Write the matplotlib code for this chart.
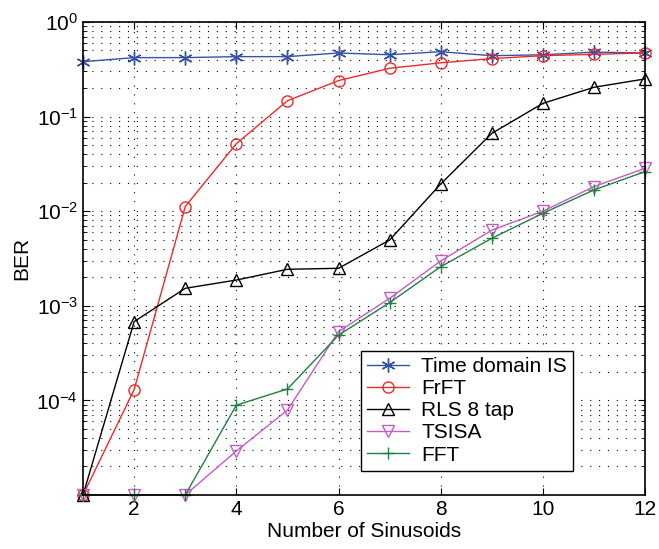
import matplotlib
matplotlib.use("Agg")
import matplotlib.pyplot as plt
from matplotlib.ticker import LogLocator, NullFormatter, FixedLocator

plt.rcParams['font.family'] = ['Liberation Sans', 'DejaVu Sans']
plt.rcParams['mathtext.fontset'] = 'custom'
plt.rcParams['mathtext.rm'] = 'Liberation Sans'

n_sin = [1, 2, 3, 4, 5, 6, 7, 8, 9, 10, 11, 12]

# zero-error points sit at the 1e-5 floor
ber_time_is = [0.38, 0.42, 0.42, 0.43, 0.43, 0.47, 0.45, 0.485, 0.44, 0.45, 0.48, 0.47]
ber_frft = [1e-5, 1.3e-4, 0.0112, 0.0517, 0.147, 0.24, 0.324, 0.37, 0.41, 0.44, 0.455, 0.47]
ber_rls = [1e-5, 6.8e-4, 1.53e-3, 1.87e-3, 2.43e-3, 2.49e-3, 4.96e-3, 0.0194, 0.0665, 0.138, 0.204, 0.25]
ber_tsisa = [1e-5, 1e-5, 1e-5, 2.92e-5, 7.9e-5, 5.33e-4, 1.2e-3, 2.98e-3, 6.3e-3, 0.01, 0.0182, 0.0284]
ber_fft = [1e-5, 1e-5, 1e-5, 8.9e-5, 1.32e-4, 4.9e-4, 1.08e-3, 2.59e-3, 5.17e-3, 9.5e-3, 0.0168, 0.0262]

fig = plt.figure(figsize=(6.59, 5.49), dpi=100)
ax = fig.add_axes([0.126, 0.0984, 0.853, 0.8616])

common = dict(lw=1, mfc='none', mew=1, clip_on=False)
ax.plot(n_sin, ber_time_is, color='#3552a5', marker=(6, 2, 0), ms=10, label='Time domain IS', **common)
ax.plot(n_sin, ber_frft, color='#ee2a2a', marker='o', ms=8, label='FrFT', **common)
ax.plot(n_sin, ber_rls, color='black', marker='^', ms=9, label='RLS 8 tap', **common)
ax.plot(n_sin, ber_tsisa, color='#c45cc4', marker='v', ms=9, label='TSISA', **common)
ax.plot(n_sin, ber_fft, color='#1f8040', marker='+', ms=9, label='FFT', **common)

ax.set_yscale('log')
ax.set_xlim(1, 12)
ax.set_ylim(1e-5, 1)
ax.set_xticks([2, 4, 6, 8, 10, 12])
ax.yaxis.set_major_locator(FixedLocator([1e-4, 1e-3, 1e-2, 1e-1, 1]))
ax.yaxis.set_minor_locator(LogLocator(base=10, subs=range(2, 10)))
ax.yaxis.set_minor_formatter(NullFormatter())

ax.grid(True, which='major', ls=(0, (1, 7)), color='black', lw=0.8)
ax.grid(True, which='minor', axis='y', ls=(0, (1, 7)), color='black', lw=0.8)
ax.set_axisbelow(True)

ax.tick_params(which='both', direction='in', top=True, right=True, labelsize=15)
ax.tick_params(which='major', length=5)
ax.tick_params(which='minor', length=3)
for s in ax.spines.values():
    s.set_linewidth(1.2)
    s.set_zorder(5)

ax.set_xlabel('Number of Sinusoids', fontsize=15, labelpad=2)
ax.set_ylabel('BER', fontsize=15)

leg = ax.legend(loc='lower right', bbox_to_anchor=(0.872, 0.051), borderaxespad=0,
                fontsize=15, fancybox=False, edgecolor='black', framealpha=1,
                handlelength=2.0, handletextpad=0.6, borderpad=0.3, labelspacing=0.15)
leg.get_frame().set_linewidth(1)

fig.savefig('out.png', dpi=100)
